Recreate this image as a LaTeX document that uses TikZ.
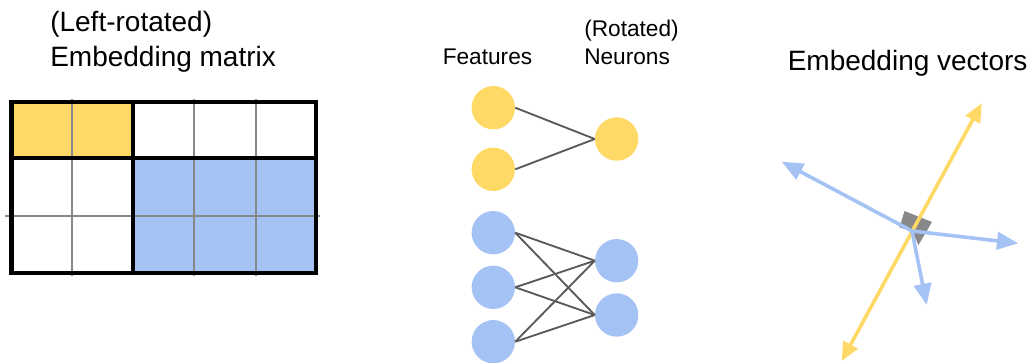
\documentclass[tikz,border=0pt]{standalone}
\usepackage{fontspec}
\setmainfont{Liberation Sans}
\usetikzlibrary{arrows.meta}
\definecolor{yel}{HTML}{FFD966}
\definecolor{blu}{HTML}{A4C2F4}
\definecolor{edgegray}{HTML}{5A5A5A}
\definecolor{gridgray}{HTML}{888888}
\definecolor{markgray}{HTML}{888888}
\tikzset{
  bigtitle/.style={anchor=base west, inner sep=0pt, font=\fontsize{21}{25}\selectfont},
  smalltitle/.style={anchor=base west, inner sep=0pt, font=\fontsize{17}{20}\selectfont},
  neuron/.style={circle, inner sep=0pt, minimum size=32.5pt, draw=none},
  ylw/.style={neuron, fill=yel},
  blw/.style={neuron, fill=blu},
  wire/.style={draw=edgegray, line width=1.4pt},
  thickgrid/.style={line width=3.6pt, black},
  thingrid/.style={line width=1.3pt, gridgray},
  vec/.style={line width=2.7pt, -{Triangle[length=16pt, width=13pt]}},
  dvec/.style={line width=2.7pt, {Triangle[length=14pt, width=12pt]}-{Triangle[length=14pt, width=12pt]}}
}
\begin{document}
\begin{tikzpicture}[x=0.75pt, y=-0.75pt]
\useasboundingbox (0,0) rectangle (1033,362);

% titles
\node[bigtitle] (t1) at (50,31.7) {(Left-rotated)};
\node[bigtitle] (t2) at (50,66.7) {Embedding matrix};
\node[smalltitle] (t3) at (442.5,64) {Features};
\node[smalltitle] (t4) at (584,36.7) {(Rotated)};
\node[smalltitle] (t5) at (584,64) {Neurons};
\node[bigtitle] (t6) at (787.5,70.7) {Embedding vectors};

% matrix
\fill[yel] (11.5,102) rectangle (133,158);
\fill[blu] (133,158) rectangle (316,273);
\foreach \x in {72,194,256} \draw[thingrid] (\x,99) -- (\x,276);
\draw[thingrid] (5,216) -- (320,216);
\draw[thickgrid] (11.5,102) rectangle (316,273);
\draw[thickgrid] (133,102) -- (133,273);
\draw[thickgrid] (11.5,158) -- (316,158);

% network
\node[ylw] (f1) at (493.3,107.7) {};
\node[ylw] (f2) at (493.3,169.3) {};
\node[ylw] (n1) at (616.7,139) {};
\node[blw] (f3) at (493.3,232.7) {};
\node[blw] (f4) at (493.3,287.3) {};
\node[blw] (f5) at (493.3,341.7) {};
\node[blw] (n2) at (616.7,260.7) {};
\node[blw] (n3) at (616.7,315) {};
\draw[wire] (f1.east) -- (n1.west);
\draw[wire] (f2.east) -- (n1.west);
\foreach \f in {f3,f4,f5} {
  \draw[wire] (\f.east) -- (n2.west);
  \draw[wire] (\f.east) -- (n3.west);
}

% embedding vectors
\coordinate (o) at (912,231);
\coordinate (ya) at (841.7,361);
\coordinate (yb) at (981.7,103.3);
\coordinate (b1) at (781.7,161.7);
\coordinate (b2) at (1018.3,243.3);
\coordinate (b3) at (926.7,305);
\fill[markgray] (904.5,211) -- (932,222) -- (918.5,245) -- (912,231) -- (899.5,227.5) -- cycle;
\draw[dvec, yel] (ya) -- (yb);
\draw[vec, blu] (o) -- (b1);
\draw[vec, blu] (o) -- (b2);
\draw[vec, blu] (o) -- (b3);
\end{tikzpicture}
\end{document}
